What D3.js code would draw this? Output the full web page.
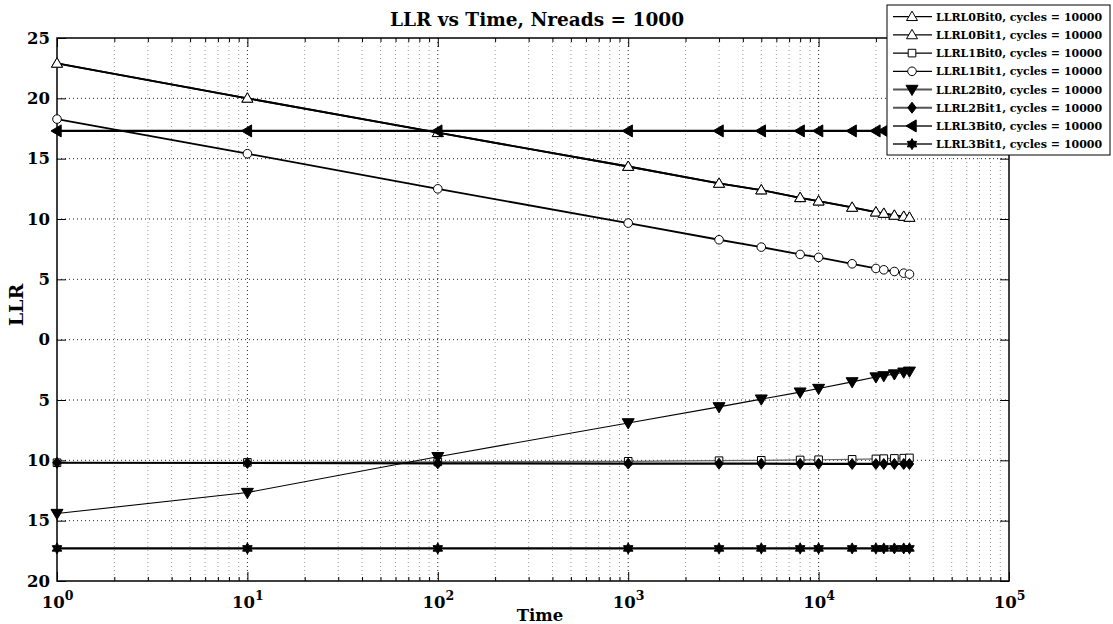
<!DOCTYPE html>
<meta charset="utf-8">
<script src="https://d3js.org/d3.v7.min.js"></script>
<style>
  body { margin: 0; background: #fff; }
  text { font-family: "DejaVu Serif", serif; font-weight: bold; fill: #000; }
</style>
<div id="chart"></div>
<script>
// data
var times = [1, 10, 100, 1000, 3000, 5000, 8000, 10000, 15000, 20000, 22000, 25000, 28000, 30000];
var llrL0Bit0 = [22.9, 20.0, 17.15, 14.35, 12.95, 12.4, 11.76, 11.48, 10.96, 10.57, 10.46, 10.3, 10.21, 10.13];
var llrL0Bit1 = [22.9, 20.0, 17.15, 14.35, 12.95, 12.4, 11.76, 11.48, 10.96, 10.57, 10.46, 10.3, 10.21, 10.13];
var llrL1Bit0 = [-10.2, -10.17, -10.13, -10.08, -10.03, -10.0, -9.97, -9.95, -9.92, -9.88, -9.86, -9.84, -9.82, -9.8];
var llrL1Bit1 = [18.28, 15.41, 12.5, 9.66, 8.28, 7.67, 7.06, 6.82, 6.29, 5.9, 5.79, 5.65, 5.51, 5.43];
var llrL2Bit0 = [-14.41, -12.67, -9.7, -6.9, -5.57, -4.93, -4.35, -4.05, -3.5, -3.1, -3.0, -2.85, -2.7, -2.62];
var llrL2Bit1 = [-10.2, -10.22, -10.25, -10.27, -10.28, -10.28, -10.29, -10.29, -10.3, -10.3, -10.3, -10.3, -10.3, -10.3];
var llrL3Bit0 = [17.3, 17.3, 17.3, 17.3, 17.3, 17.3, 17.3, 17.3, 17.3, 17.3, 17.3, 17.3, 17.3, 17.3];
var llrL3Bit1 = [-17.3, -17.3, -17.3, -17.3, -17.3, -17.3, -17.3, -17.3, -17.3, -17.3, -17.3, -17.3, -17.3, -17.3];

var seriesNames = ["LLRL0Bit0, cycles = 10000", "LLRL0Bit1, cycles = 10000", "LLRL1Bit0, cycles = 10000",
  "LLRL1Bit1, cycles = 10000", "LLRL2Bit0, cycles = 10000", "LLRL2Bit1, cycles = 10000",
  "LLRL3Bit0, cycles = 10000", "LLRL3Bit1, cycles = 10000"];
var seriesValues = [llrL0Bit0, llrL0Bit1, llrL1Bit0, llrL1Bit1, llrL2Bit0, llrL2Bit1, llrL3Bit0, llrL3Bit1];
var markers = ["triUp", "triUp", "square", "circle", "triDown", "diamond", "triLeft", "hexagram"];

var yTicks = [-20, -15, -10, -5, 0, 5, 10, 15, 20, 25];
var yTickLabels = ["20", "15", "10", "5", "0", "5", "10", "15", "20", "25"];
var xMajor = [1, 10, 100, 1000, 10000, 100000];
var xExponents = ["0", "1", "2", "3", "4", "5"];

// layout
var W = 1113, H = 624;
var margin = {top: 38, right: 104, bottom: 43, left: 57},
    width = W - margin.left - margin.right,
    height = H - margin.top - margin.bottom;

var svg = d3.select("#chart").append("svg")
    .attr("width", W).attr("height", H);
var g = svg.append("g")
    .attr("transform", "translate(" + margin.left + "," + margin.top + ")");

var x = d3.scaleLog().domain([1, 1e5]).range([0, width]);
var y = d3.scaleLinear().domain([-20, 25]).range([height, 0]);

// minor log ticks
var xMinor = [];
for (var d = 0; d < 5; d++) {
  for (var k = 2; k <= 9; k++) xMinor.push(k * Math.pow(10, d));
}

// grid
g.append("g").selectAll("line").data(xMinor).enter().append("line")
  .attr("x1", function(d) { return x(d); }).attr("x2", function(d) { return x(d); })
  .attr("y1", 0).attr("y2", height)
  .attr("stroke", "#999").attr("stroke-width", 1).attr("stroke-dasharray", "1,3");
g.append("g").selectAll("line").data(xMajor.slice(1, 5)).enter().append("line")
  .attr("x1", function(d) { return x(d); }).attr("x2", function(d) { return x(d); })
  .attr("y1", 0).attr("y2", height)
  .attr("stroke", "#222").attr("stroke-width", 1).attr("stroke-dasharray", "1,3");
g.append("g").selectAll("line").data(yTicks.slice(1, 9)).enter().append("line")
  .attr("x1", 0).attr("x2", width)
  .attr("y1", function(d) { return y(d); }).attr("y2", function(d) { return y(d); })
  .attr("stroke", "#222").attr("stroke-width", 1).attr("stroke-dasharray", "1,3");

// axes
var yLeft = g.append("g")
  .call(d3.axisLeft(y).tickValues(yTicks).tickSize(-9).tickPadding(7)
    .tickFormat(function(d, i) { return yTickLabels[i]; }));
g.append("g").attr("transform", "translate(" + width + ",0)")
  .call(d3.axisRight(y).tickValues(yTicks).tickSize(-9).tickFormat(""));

var xBottom = g.append("g").attr("transform", "translate(0," + height + ")")
  .call(d3.axisBottom(x).tickValues(xMajor).tickSize(-9).tickPadding(8).tickFormat(""));
g.append("g").attr("transform", "translate(0," + height + ")")
  .call(d3.axisBottom(x).tickValues(xMinor).tickSize(-4).tickFormat(""));
g.append("g")
  .call(d3.axisTop(x).tickValues(xMajor).tickSize(-9).tickFormat(""));
g.append("g")
  .call(d3.axisTop(x).tickValues(xMinor).tickSize(-4).tickFormat(""));

g.selectAll(".domain").remove();
g.selectAll(".tick line").attr("stroke", "#000").attr("stroke-width", 1);

yLeft.selectAll("text").style("font-size", "16.5px").style("font-family", "DejaVu Serif").style("font-weight", "bold");

xBottom.selectAll(".tick text").each(function(d, i) {
  var t = d3.select(this);
  t.text("").style("font-size", "16.5px").style("font-family", "DejaVu Serif").style("font-weight", "bold")
    .attr("dy", "1.15em");
  t.append("tspan").text("10");
  t.append("tspan").attr("dy", "-0.6em").style("font-size", "12.5px").text(xExponents[i]);
});

// box
g.append("rect").attr("x", 0).attr("y", 0).attr("width", width).attr("height", height)
  .attr("fill", "none").attr("stroke", "#000").attr("stroke-width", 1.5);

// marker shapes
function markerPath(type) {
  var r;
  switch (type) {
    case "triUp": r = 5.5; return "M0," + (-r) + "L" + (r) + "," + (r * 0.7) + "L" + (-r) + "," + (r * 0.7) + "Z";
    case "triDown": r = 6; return "M0," + (r) + "L" + (r) + "," + (-r * 0.7) + "L" + (-r) + "," + (-r * 0.7) + "Z";
    case "triLeft": r = 6; return "M" + (-r) + ",0L" + (r * 0.7) + "," + (-r) + "L" + (r * 0.7) + "," + (r) + "Z";
    case "square": r = 3.8; return "M" + (-r) + "," + (-r) + "H" + r + "V" + r + "H" + (-r) + "Z";
    case "diamond": return "M0,-5.5L4.2,0L0,5.5L-4.2,0Z";
    case "circle": r = 4.3; return "M" + r + ",0A" + r + "," + r + " 0 1,1 " + (-r) + ",0A" + r + "," + r + " 0 1,1 " + r + ",0Z";
    case "hexagram":
      var pts = [];
      for (var i = 0; i < 12; i++) {
        var rr = (i % 2 === 0) ? 5.5 : 5.5 / Math.sqrt(3);
        var a = -Math.PI / 2 + i * Math.PI / 6;
        pts.push([rr * Math.cos(a), rr * Math.sin(a)]);
      }
      return "M" + pts.map(function(p) { return p[0].toFixed(2) + "," + p[1].toFixed(2); }).join("L") + "Z";
  }
}
var filled = {triUp: false, square: false, circle: false, triDown: true, diamond: true, triLeft: true, hexagram: true};
var lineWidths = [1.8, 1.8, 1.2, 1.8, 1.1, 2.2, 2.2, 2.2];
var lineColors = ["#000", "#000", "#666", "#000", "#000", "#000", "#000", "#000"];

var line = d3.line().x(function(d) { return x(d[0]); }).y(function(d) { return y(d[1]); });

seriesValues.forEach(function(vals, s) {
  var pts = times.map(function(t, i) { return [t, vals[i]]; });
  g.append("path").datum(pts).attr("d", line)
    .attr("fill", "none").attr("stroke", lineColors[s]).attr("stroke-width", lineWidths[s]);
  g.append("g").selectAll("path").data(pts).enter().append("path")
    .attr("transform", function(d) { return "translate(" + x(d[0]) + "," + y(d[1]) + ")"; })
    .attr("d", markerPath(markers[s]))
    .attr("fill", filled[markers[s]] ? "#000" : "#fff")
    .attr("stroke", "#000").attr("stroke-width", 1);
});

// title and labels
svg.append("text").attr("x", margin.left + width / 2 + 4).attr("y", 26)
  .attr("text-anchor", "middle").style("font-size", "18.5px").text("LLR vs Time, Nreads = 1000");
svg.append("text").attr("x", margin.left + width / 2 + 7).attr("y", 621)
  .attr("text-anchor", "middle").style("font-size", "16.5px").text("Time");
svg.append("text").attr("transform", "translate(23," + 305 + ") rotate(-90)")
  .attr("text-anchor", "middle").style("font-size", "19px").text("LLR");

// legend
var leg = svg.append("g").attr("transform", "translate(887,5)");
leg.append("rect").attr("width", 223).attr("height", 150)
  .attr("fill", "#fff").attr("stroke", "#000").attr("stroke-width", 1);
seriesNames.forEach(function(name, s) {
  var cy = 11.7 + s * 18.2;
  leg.append("line").attr("x1", 6).attr("x2", 45).attr("y1", cy).attr("y2", cy)
    .attr("stroke", s < 4 ? "#000" : "#555").attr("stroke-width", s < 4 ? 1.2 : 2);
  leg.append("path").attr("transform", "translate(25," + cy + ")")
    .attr("d", markerPath(markers[s]))
    .attr("fill", filled[markers[s]] ? "#000" : "#fff")
    .attr("stroke", "#000").attr("stroke-width", 1);
  leg.append("text").attr("x", 49).attr("y", cy + 4).style("font-size", "11px").text(name);
});
</script>
